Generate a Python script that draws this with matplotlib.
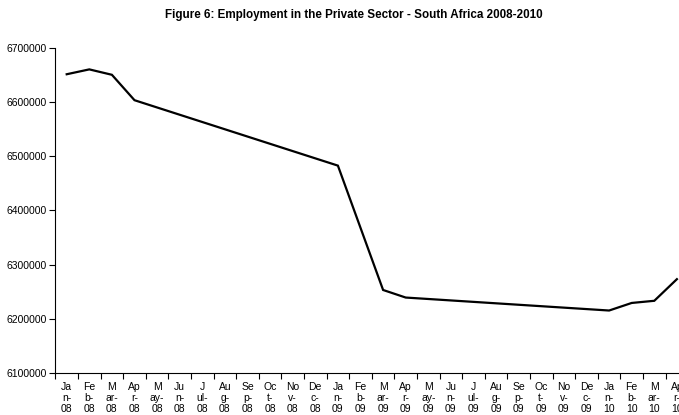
import matplotlib
matplotlib.use("Agg")
import matplotlib.pyplot as plt
import numpy as np

plt.rcParams["font.family"] = ["Liberation Sans", "DejaVu Sans"]

# months Jan-08 .. Apr-10, Excel wraps "Jan-08" as "Ja / n- / 08"
month_top = ["Ja", "Fe", "M", "Ap", "M", "Ju", "J", "Au", "Se", "Oc", "No", "De"]
month_mid = ["n-", "b-", "ar-", "r-", "ay-", "n-", "ul-", "g-", "p-", "t-", "v-", "c-"]
years = ["08"] * 12 + ["09"] * 12 + ["10"] * 4

# employment; NaN where no observation (line joins the available points)
employment = [
    6652000, 6661000, 6651000, 6604000, np.nan, np.nan, np.nan, np.nan,
    np.nan, np.nan, np.nan, np.nan,
    6483000, np.nan, 6253000, 6239000, np.nan, np.nan, np.nan, np.nan,
    np.nan, np.nan, np.nan, np.nan,
    6215000, 6229000, 6233000, 6273000,
]

labels = [f"{month_top[i % 12]}\n{month_mid[i % 12]}\n{y}" for i, y in enumerate(years)]
x = np.arange(len(employment))
vals = np.array(employment, dtype=float)
ok = ~np.isnan(vals)

fig = plt.figure(figsize=(6.79, 4.15), dpi=100)
# plot area runs past the right edge, as in the source image
ax = fig.add_axes([55.4 / 679, (415 - 372.7) / 415, 632.8 / 679, 324.4 / 415])

ax.plot(x[ok], vals[ok], color="black", lw=1.6, solid_joinstyle="miter")

ax.set_xlim(-0.5, len(x) - 0.5)
ax.set_ylim(6100000, 6700000)
ax.set_yticks(np.arange(6100000, 6700001, 100000))
ax.yaxis.set_major_formatter(matplotlib.ticker.FuncFormatter(lambda v, p: f"{int(v)}"))

ax.set_xticks(x)
ax.set_xticklabels(labels, fontsize=7.5, linespacing=1.08)
ax.set_xticks(np.arange(-0.5, len(x), 1.0), minor=True)
ax.tick_params(axis="x", which="major", length=0, pad=7)
ax.tick_params(axis="x", which="minor", length=4, width=0.8, direction="out")
ax.tick_params(axis="y", length=4, width=0.8, direction="out", labelsize=7.5, pad=2)

for s in ["top", "right"]:
    ax.spines[s].set_visible(False)
for s in ["left", "bottom"]:
    ax.spines[s].set_linewidth(0.8)

fig.text(354 / 679, 1 - 15 / 415, "Figure 6: Employment in the Private Sector - South Africa 2008-2010",
         ha="center", va="center", fontsize=8.4, fontweight="bold")

fig.savefig("out.png", dpi=100)
